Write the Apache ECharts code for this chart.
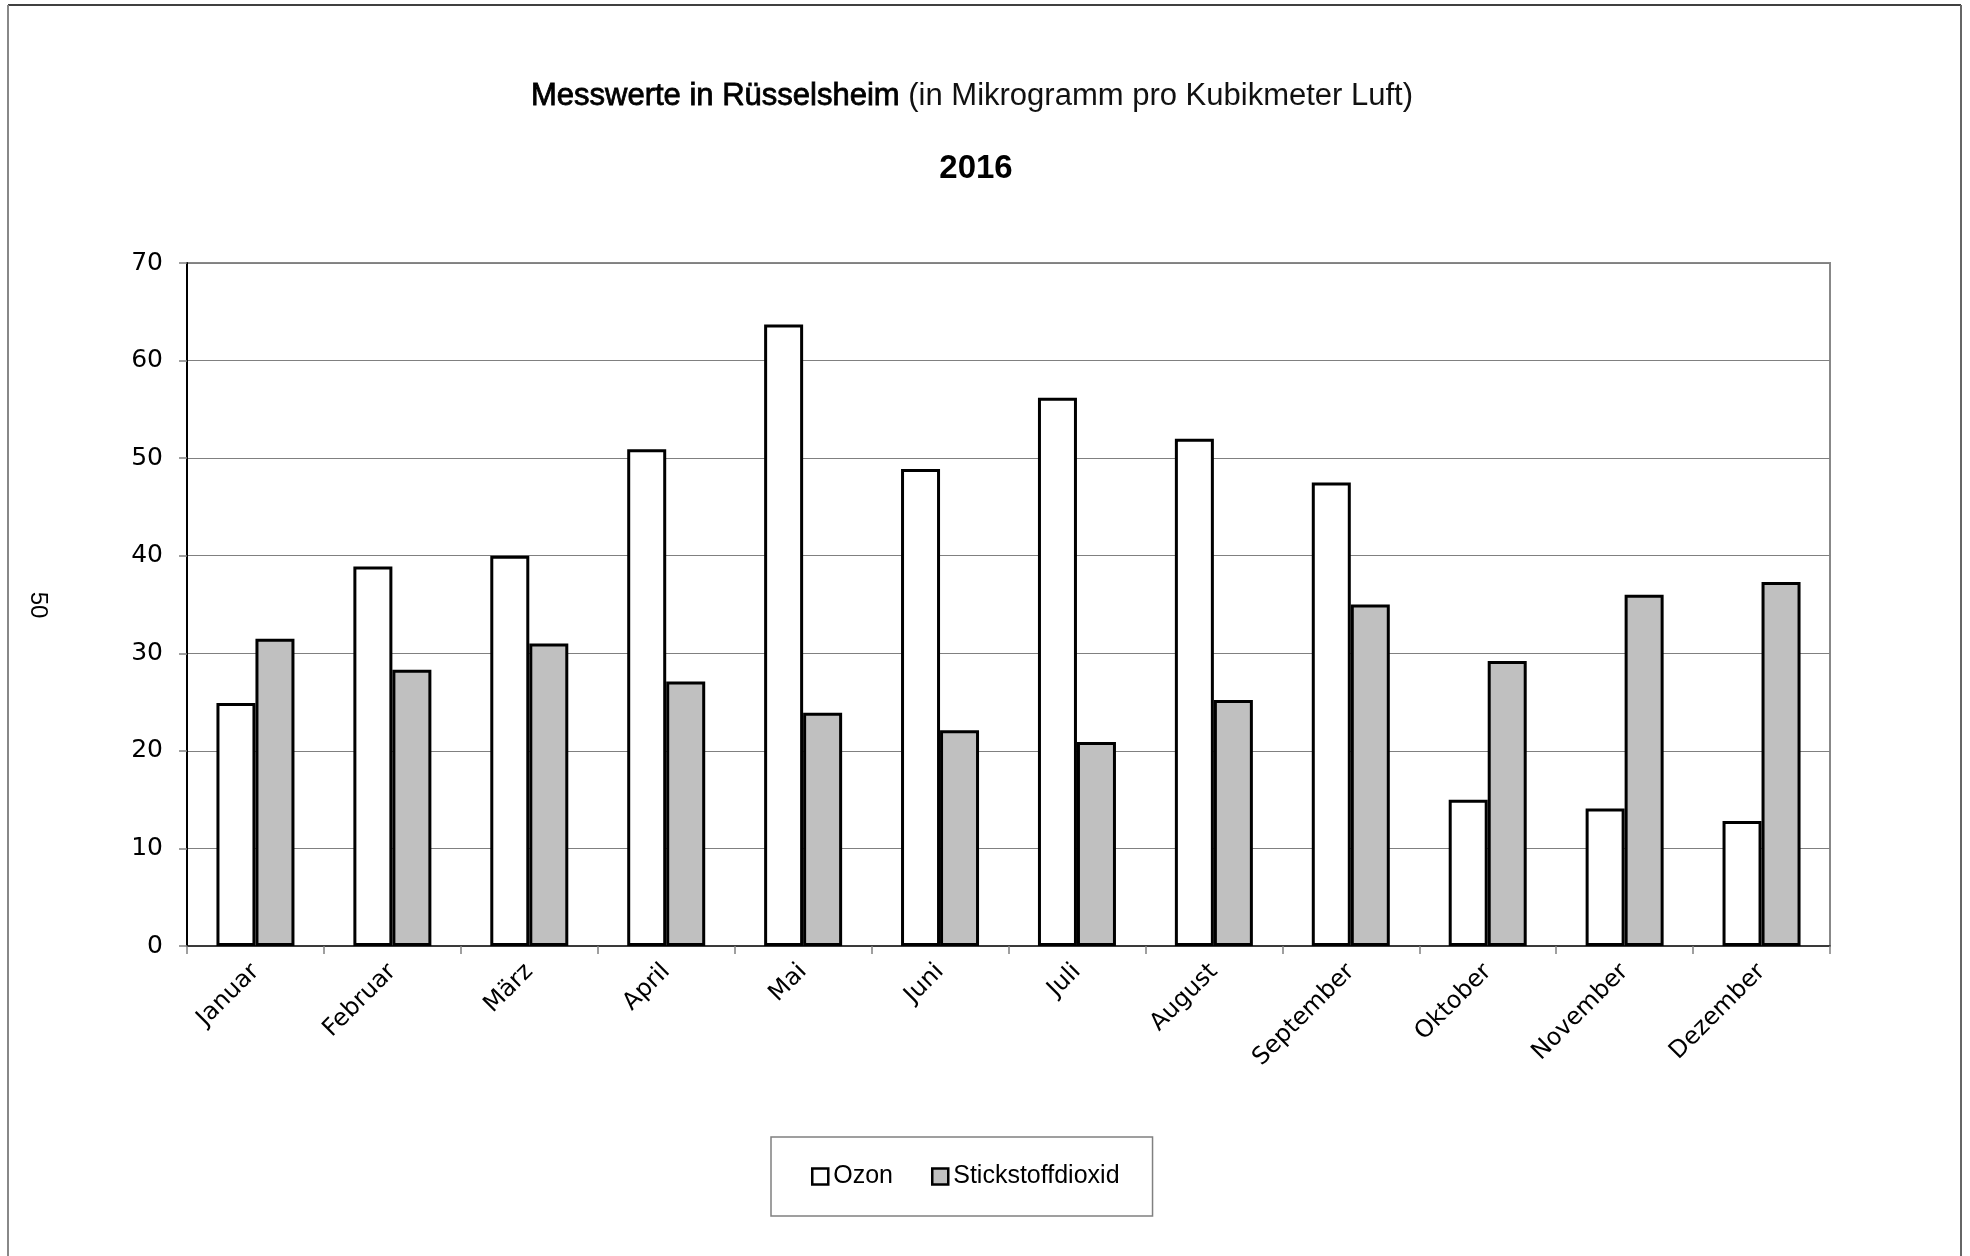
<!DOCTYPE html>
<html><head><meta charset="utf-8">
<script src="https://cdn.jsdelivr.net/npm/echarts@6/dist/echarts.min.js"></script>
<style>html,body{margin:0;padding:0;background:#fff}#c{width:1970px;height:1256px}</style>
</head><body><div id="c"></div>
<script>
const categories = ['Januar','Februar','März','April','Mai','Juni','Juli','August','September','Oktober','November','Dezember'];
const ozon = [24.9, 38.9, 40.0, 50.9, 63.7, 48.9, 56.2, 52.0, 47.5, 15.0, 14.1, 12.8];
const no2 = [31.5, 28.3, 31.0, 27.1, 23.9, 22.1, 20.9, 25.2, 35.0, 29.2, 36.0, 37.3];
const seriesNames = ['Ozon', 'Stickstoffdioxid'];
const titleMain = 'Messwerte in Rüsselsheim';
const titleSub = '(in Mikrogramm pro Kubikmeter Luft)';
const titleYear = '2016';
const pageNo = '50';

const chart = echarts.init(document.getElementById('c'), null, {renderer: 'canvas'});
const option = {
  backgroundColor: '#fff',
  animation: false,
  grid: {left: 187, right: 140, top: 263, bottom: 310, show: true, borderColor: '#888', borderWidth: 2, backgroundColor: 'transparent'},
  legend: {
    left: 771, top: 1137,
    padding: [27, 33, 27, 40],
    borderColor: '#808080', borderWidth: 1.5,
    itemWidth: 16, itemHeight: 16, itemGap: 38,
    icon: 'rect',
    itemStyle: {borderColor: '#000', borderWidth: 2.5},
    textStyle: {fontFamily: 'Liberation Sans', fontSize: 25, color: '#000'},
    data: seriesNames
  },
  xAxis: {
    type: 'category', data: categories,
    axisLine: {lineStyle: {color: '#222', width: 1.5}},
    axisTick: {show: true, length: 8, lineStyle: {color: '#808080', width: 1.5}},
    axisLabel: {rotate: 45, interval: 0, margin: 22, fontFamily: 'DejaVu Sans', fontSize: 24, color: '#000'},
    splitLine: {show: false}
  },
  yAxis: {
    type: 'value', min: 0, max: 70, interval: 10,
    axisLine: {show: true, lineStyle: {color: '#000', width: 2}},
    axisTick: {show: true, length: 8, lineStyle: {color: '#808080', width: 1.5}},
    axisLabel: {margin: 24, fontFamily: 'DejaVu Sans', fontSize: 25, color: '#000'},
    splitLine: {show: true, lineStyle: {color: '#808080', width: 1.2}}
  },
  series: [
    {name: seriesNames[0], type: 'bar', data: ozon, barWidth: 39, barGap: '0%',
     itemStyle: {color: '#ffffff', borderColor: '#000', borderWidth: 3}},
    {name: seriesNames[1], type: 'bar', data: no2, barWidth: 39, barGap: '0%',
     itemStyle: {color: '#c0c0c0', borderColor: '#000', borderWidth: 3}}
  ],
  graphic: [
    {type: 'line', shape: {x1: 8, y1: 5, x2: 1961, y2: 5}, style: {stroke: '#000', lineWidth: 1.5}, silent: true},
    {type: 'line', shape: {x1: 8, y1: 5, x2: 8, y2: 1256}, style: {stroke: '#888', lineWidth: 2}, silent: true},
    {type: 'line', shape: {x1: 1961, y1: 5, x2: 1961, y2: 1256}, style: {stroke: '#666', lineWidth: 2}, silent: true},
    {type: 'text', x: 38, y: 605, rotation: -Math.PI / 2,
     style: {text: pageNo, fontFamily: 'Liberation Sans', fontSize: 24, fill: '#000', textAlign: 'center', textVerticalAlign: 'middle'}},
    {type: 'text', x: 972, y: 96,
     style: {text: '{a|' + titleMain + '}{b| ' + titleSub + '}', textAlign: 'center', textVerticalAlign: 'middle',
       rich: {
         a: {fontFamily: 'Liberation Sans', fontSize: 31, fill: '#000', stroke: '#000', lineWidth: 0.8},
         b: {fontFamily: 'Liberation Sans', fontSize: 31, fill: '#111'}
       }}},
    {type: 'text', x: 976, y: 169,
     style: {text: titleYear, fontFamily: 'Liberation Sans', fontWeight: 'bold', fontSize: 33, fill: '#000', textAlign: 'center', textVerticalAlign: 'middle'}}
  ]
};
chart.setOption(option);
</script>
</body></html>
